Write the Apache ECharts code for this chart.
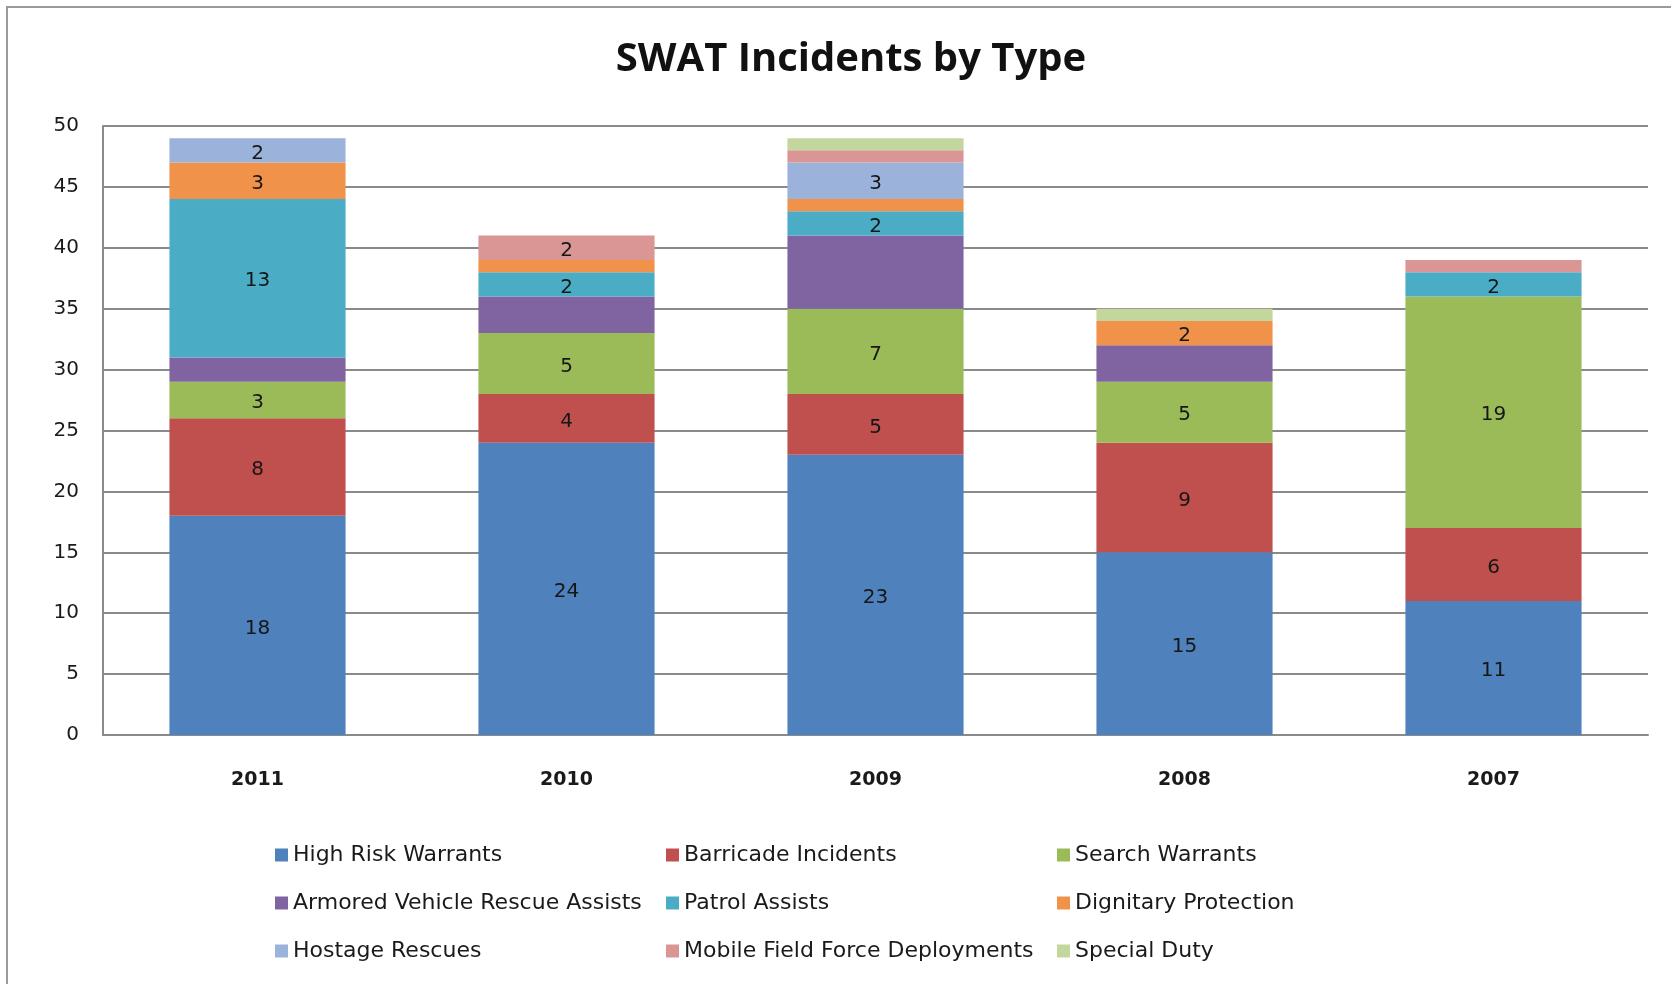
<!DOCTYPE html>
<html>
<head>
<meta charset="utf-8">
<title>SWAT Incidents by Type</title>
<script src="https://cdn.jsdelivr.net/npm/echarts@6/dist/echarts.min.js"></script>
<style>
  html, body { margin: 0; padding: 0; background: #ffffff; }
  #chart { width: 1671px; height: 984px; }
</style>
</head>
<body>
<div id="chart"></div>
<script>
// Years shown left to right
const years = ['2011', '2010', '2009', '2008', '2007'];

// Incident counts per type, one value per year
const highRiskWarrants   = [18, 24, 23, 15, 11];
const barricadeIncidents = [8, 4, 5, 9, 6];
const searchWarrants     = [3, 5, 7, 5, 19];
const armoredVehicle     = [2, 3, 6, 3, 0];
const patrolAssists      = [13, 2, 2, 0, 2];
const dignitaryProtect   = [3, 1, 1, 2, 0];
const hostageRescues     = [2, 0, 3, 0, 0];
const mobileFieldForce   = [0, 2, 1, 0, 1];
const specialDuty        = [0, 0, 1, 1, 0];

const seriesNames = [
  'High Risk Warrants', 'Barricade Incidents', 'Search Warrants',
  'Armored Vehicle Rescue Assists', 'Patrol Assists', 'Dignitary Protection',
  'Hostage Rescues', 'Mobile Field Force Deployments', 'Special Duty'
];
const seriesValues = [
  highRiskWarrants, barricadeIncidents, searchWarrants,
  armoredVehicle, patrolAssists, dignitaryProtect,
  hostageRescues, mobileFieldForce, specialDuty
];
const seriesColors = [
  '#4F81BD', '#C0504D', '#9BBB59',
  '#8064A2', '#4BACC6', '#F0924A',
  '#9BB2DA', '#D99694', '#C3D69B'
];
// Series whose segments carry no value label
const unlabeled = ['Armored Vehicle Rescue Assists'];

// Y axis ticks
const yMin = 0, yMax = 50, yStep = 5;

const chart = echarts.init(document.getElementById('chart'), null, { renderer: 'canvas' });

const series = seriesNames.map((name, i) => ({
  name: name,
  type: 'bar',
  stack: 'total',
  barWidth: '57%',
  data: seriesValues[i],
  itemStyle: { color: seriesColors[i] },
  emphasis: { disabled: true },
  label: {
    show: unlabeled.indexOf(name) < 0,
    position: 'inside',
    offset: [0, 3],
    fontFamily: 'DejaVu Sans',
    fontSize: 20,
    color: '#161616',
    formatter: p => (p.value >= 2 ? String(p.value) : '')
  }
}));

// Legend laid out as a 3 x 3 grid of entries
const legendCols = [275, 666, 1057];
const legendRows = [844, 892, 940];
const legends = seriesNames.map((name, i) => ({
  data: [name],
  left: legendCols[i % 3],
  top: legendRows[Math.floor(i / 3)],
  padding: 0,
  itemWidth: 13,
  itemHeight: 13,
  itemGap: 0,
  icon: 'rect',
  selectedMode: false,
  textStyle: { fontFamily: 'DejaVu Sans', fontSize: 22, color: '#1a1a1a' }
}));

chart.setOption({
  backgroundColor: '#ffffff',
  animation: false,
  title: {
    text: 'SWAT Incidents by Type',
    left: 846,
    top: 35,
    textAlign: 'center',
    textStyle: { fontFamily: 'Open Sans', fontWeight: 'bold', fontSize: 40, color: '#111111' }
  },
  graphic: [{
    type: 'rect',
    shape: { x: 7, y: 7, width: 1700, height: 1100 },
    style: { fill: 'none', stroke: '#9a9a9a', lineWidth: 2 },
    silent: true
  }],
  legend: legends,
  grid: { left: 103, right: 23, top: 126, bottom: 249 },
  xAxis: {
    type: 'category',
    data: years,
    axisLine: { show: true, lineStyle: { color: '#8a8a8a', width: 2 } },
    axisTick: { show: false },
    axisLabel: {
      margin: 36,
      fontFamily: 'DejaVu Sans',
      fontWeight: 'bold',
      fontSize: 19,
      color: '#1a1a1a'
    }
  },
  yAxis: {
    type: 'value',
    min: yMin,
    max: yMax,
    interval: yStep,
    axisLine: { show: true, lineStyle: { color: '#8a8a8a', width: 2 } },
    axisTick: { show: false },
    splitLine: { show: true, lineStyle: { color: '#8a8a8a', width: 2 } },
    axisLabel: {
      margin: 24,
      fontFamily: 'DejaVu Sans',
      fontSize: 20,
      color: '#1a1a1a'
    }
  },
  series: series
});
</script>
</body>
</html>
